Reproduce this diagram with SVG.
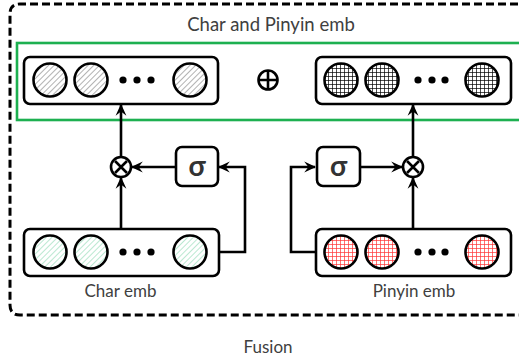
<svg xmlns="http://www.w3.org/2000/svg" width="519" height="362" viewBox="0 0 519 362">
<defs>
<style>
.box{fill:#fff;stroke:#000;stroke-width:2.6}
.c{stroke:#000;stroke-width:2.6}
.dot{fill:#000}
.line{fill:none;stroke:#000;stroke-width:2.6}
.lbl{font-family:Lato,"Open Sans",sans-serif;font-size:17px;fill:#404040;text-anchor:middle}
.sig{font-family:Lato,"Open Sans",sans-serif;font-weight:bold;font-size:28px;fill:#333;text-anchor:middle}
</style>
<pattern id="hGray" patternUnits="userSpaceOnUse" width="4" height="4" patternTransform="rotate(45)">
<rect width="4" height="4" fill="#fff"/><line x1="0" y1="0" x2="0" y2="4" stroke="#555" stroke-width="0.9"/>
</pattern>
<pattern id="hGreen" patternUnits="userSpaceOnUse" width="4" height="4" patternTransform="rotate(45)">
<rect width="4" height="4" fill="#fff"/><line x1="0" y1="0" x2="0" y2="4" stroke="#6c9" stroke-width="0.9"/>
</pattern>
<pattern id="gBlack" patternUnits="userSpaceOnUse" width="4" height="4">
<rect width="4" height="4" fill="#fff"/><path d="M0,0.5H4M0.5,0V4" stroke="#000" stroke-width="0.7"/>
</pattern>
<pattern id="gRed" patternUnits="userSpaceOnUse" width="4" height="4">
<rect width="4" height="4" fill="#fff"/><path d="M0,0.5H4M0.5,0V4" stroke="#f33" stroke-width="0.7"/>
</pattern>
<marker id="arrw" viewBox="0 0 10 10" refX="9" refY="5" markerWidth="12" markerHeight="12" orient="auto" markerUnits="userSpaceOnUse">
<path d="M0,0.5 L10,5 L0,9.5 L3.5,5 z" fill="#000"/>
</marker>
</defs>

<g id="fusion">
<path d="M530,4 H20 Q10,4 10,14 V305 Q10,315 20,315 H530" fill="none" stroke="#000" stroke-width="3" stroke-dasharray="8,4"/>
<text class="lbl" x="268" y="353">Fusion</text>
</g>

<g id="charPinyinEmb">
<rect x="17" y="43" width="520" height="77" fill="none" stroke="#1db050" stroke-width="2.6"/>
<text class="lbl" x="271" y="31" style="font-size:18.5px">Char and Pinyin emb</text>
</g>

<g id="connectors">
<line class="line" x1="121" y1="229" x2="121" y2="178" marker-end="url(#arrw)"/>
<line class="line" x1="121" y1="156" x2="121" y2="105" marker-end="url(#arrw)"/>
<line class="line" x1="175" y1="167" x2="132" y2="167" marker-end="url(#arrw)"/>
<polyline class="line" points="219,252 245,252 245,167 219,167" marker-end="url(#arrw)"/>
<line class="line" x1="413" y1="229" x2="413" y2="178" marker-end="url(#arrw)"/>
<line class="line" x1="413" y1="156" x2="413" y2="105" marker-end="url(#arrw)"/>
<line class="line" x1="361" y1="167" x2="402" y2="167" marker-end="url(#arrw)"/>
<polyline class="line" points="316,252 291,252 291,167 315,167" marker-end="url(#arrw)"/>
</g>

<g id="charPinyinVec">
<rect class="box" x="24" y="57" width="194" height="47" rx="6"/>
<circle class="c" cx="50" cy="80" r="16.5" fill="url(#hGray)"/>
<circle class="c" cx="91" cy="80" r="16.5" fill="url(#hGray)"/>
<circle class="c" cx="190" cy="80" r="16.5" fill="url(#hGray)"/>
<circle class="dot" cx="123" cy="80" r="3.6"/>
<circle class="dot" cx="137" cy="80" r="3.6"/>
<circle class="dot" cx="151" cy="80" r="3.6"/>
</g>

<g id="oplus">
<circle cx="268" cy="80" r="9.5" fill="#fff" stroke="#000" stroke-width="2.6"/>
<path d="M258.5,80 H277.5 M268,70.5 V89.5" stroke="#000" stroke-width="2.6"/>
</g>

<g id="pinyinCharVec">
<rect class="box" x="316" y="57" width="195" height="47" rx="6"/>
<circle class="c" cx="341" cy="80" r="16.5" fill="url(#gBlack)"/>
<circle class="c" cx="382" cy="80" r="16.5" fill="url(#gBlack)"/>
<circle class="c" cx="482" cy="80" r="16.5" fill="url(#gBlack)"/>
<circle class="dot" cx="418" cy="80" r="3.6"/>
<circle class="dot" cx="432" cy="80" r="3.6"/>
<circle class="dot" cx="445" cy="80" r="3.6"/>
</g>

<g id="otimesLeft">
<circle cx="121" cy="167" r="10" fill="#fff" stroke="#000" stroke-width="2.6"/>
<path d="M115,161 L127,173 M127,161 L115,173" stroke="#000" stroke-width="2.6"/>
</g>
<g id="otimesRight">
<circle cx="413" cy="167" r="10" fill="#fff" stroke="#000" stroke-width="2.6"/>
<path d="M407,161 L419,173 M419,161 L407,173" stroke="#000" stroke-width="2.6"/>
</g>

<g id="sigmaLeft">
<rect class="box" x="176" y="147" width="42" height="39" rx="6"/>
<text class="sig" x="197" y="176">σ</text>
</g>
<g id="sigmaRight">
<rect class="box" x="317" y="147" width="43" height="39" rx="6"/>
<text class="sig" x="338.5" y="176">σ</text>
</g>

<g id="charEmb">
<rect class="box" x="24" y="229" width="195" height="47" rx="6"/>
<circle class="c" cx="50" cy="252" r="16.5" fill="url(#hGreen)"/>
<circle class="c" cx="91" cy="252" r="16.5" fill="url(#hGreen)"/>
<circle class="c" cx="190" cy="252" r="16.5" fill="url(#hGreen)"/>
<circle class="dot" cx="123" cy="252" r="3.6"/>
<circle class="dot" cx="137" cy="252" r="3.6"/>
<circle class="dot" cx="151" cy="252" r="3.6"/>
<text class="lbl" x="120.5" y="297">Char emb</text>
</g>

<g id="pinyinEmb">
<rect class="box" x="316" y="229" width="195" height="47" rx="6"/>
<circle class="c" cx="341" cy="252" r="16.5" fill="url(#gRed)"/>
<circle class="c" cx="382" cy="252" r="16.5" fill="url(#gRed)"/>
<circle class="c" cx="482" cy="252" r="16.5" fill="url(#gRed)"/>
<circle class="dot" cx="418" cy="252" r="3.6"/>
<circle class="dot" cx="432" cy="252" r="3.6"/>
<circle class="dot" cx="445" cy="252" r="3.6"/>
<text class="lbl" x="414" y="297">Pinyin emb</text>
</g>
</svg>
